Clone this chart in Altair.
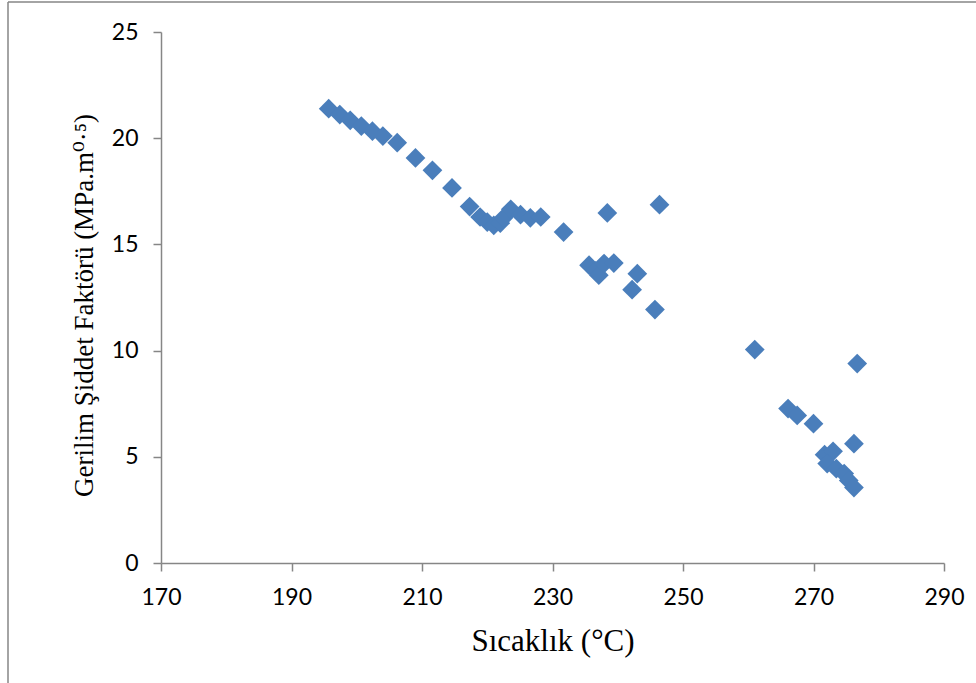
import altair as alt
import pandas as pd

temps = [195.7, 197.4, 199.0, 200.7, 202.4, 204.0, 206.2, 209.0, 211.6, 214.6,
         217.3, 218.9, 220.0, 221.0, 222.0, 222.5, 223.6, 225.1, 226.6, 228.2,
         231.7, 235.6, 236.6, 237.1, 237.9, 239.4, 238.4, 246.4, 243.0, 242.2,
         245.7, 261.0, 266.1, 267.5, 270.0, 276.7, 276.2, 271.7, 273.0, 272.1,
         273.5, 274.7, 275.4, 276.2]
kvals = [21.39, 21.11, 20.84, 20.57, 20.33, 20.10, 19.79, 19.07, 18.49, 17.66,
         16.78, 16.29, 16.05, 15.90, 16.00, 16.25, 16.65, 16.40, 16.25, 16.29,
         15.58, 14.02, 13.75, 13.55, 14.10, 14.12, 16.48, 16.87, 13.62, 12.87,
         11.93, 10.05, 7.27, 6.95, 6.56, 9.39, 5.62, 5.10, 5.26, 4.68,
         4.44, 4.21, 3.89, 3.55]
x_ticks = [170, 190, 210, 230, 250, 270, 290]
y_ticks = [0, 5, 10, 15, 20, 25]

df = pd.DataFrame({"t": temps, "k": kvals})
one = pd.DataFrame({"a": [0]})

AX = "#868686"
SERIF = "Liberation Serif, DejaVu Serif, serif"

points = alt.Chart(df).mark_point(
    shape="diamond", filled=True, size=390, color="#4A7EBB", opacity=1
).encode(
    x=alt.X("t:Q",
            scale=alt.Scale(domain=[170, 290], nice=False, zero=False),
            axis=alt.Axis(values=x_ticks, title="Sıcaklık (°C)",
                          titleFont=SERIF, titleFontSize=31,
                          titleFontWeight="normal", titleColor="#000000",
                          titleBaseline="alphabetic", titleY=87,
                          labelFlush=False)),
    y=alt.Y("k:Q",
            scale=alt.Scale(domain=[0, 25], nice=False, zero=True),
            axis=alt.Axis(values=y_ticks,
                          title="Gerilim Şiddet Faktörü (MPa.m⁰·⁵)",
                          titleFont=SERIF, titleFontSize=27,
                          titleFontWeight="normal", titleColor="#000000",
                          titleAngle=270, titleBaseline="alphabetic",
                          titleX=-69, titleY=273, labelFlush=False)),
)

top_border = alt.Chart(one).mark_rule(color=AX, strokeWidth=1.5, clip=False).encode(
    x=alt.value(-153), x2=alt.value(815), y=alt.value(-30)
)
left_border = alt.Chart(one).mark_rule(color=AX, strokeWidth=1.5, clip=False).encode(
    x=alt.value(-153), y=alt.value(-30), y2=alt.value(651)
)

chart = alt.layer(top_border, left_border, points).properties(
    width=783, height=531,
    autosize=alt.AutoSizeParams(type="none"),
    padding={"left": 161, "top": 32, "right": 32, "bottom": 120},
    background="white",
).configure_view(stroke=None).configure_axis(
    grid=False,
    domainColor=AX, domainWidth=1.5,
    tickColor=AX, tickWidth=1.5, tickSize=8,
    labelFont="Lato", labelFontSize=23, labelColor="#000000",
    labelPadding=15, labelOverlap=False,
)

chart.save("out.html", embed_options={"renderer": "svg", "actions": False})
